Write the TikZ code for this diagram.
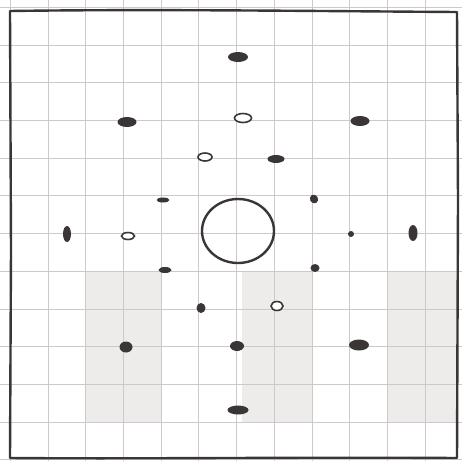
\documentclass[tikz,border=0pt]{standalone}
\usetikzlibrary{shapes.geometric}
\definecolor{ink}{HTML}{3A3636}
\definecolor{gridc}{HTML}{CFC8C8}
\definecolor{shadec}{HTML}{EEEBEB}
\tikzset{
  dot/.style={ellipse, fill=ink, inner sep=0pt, minimum width=#1},
  ring/.style={ellipse, draw=ink, line width=1.6pt, fill=white, inner sep=0pt},
}
\begin{document}
\begin{tikzpicture}[x=1pt,y=-1pt]
\useasboundingbox (0,0) rectangle (462,461);
\fill[white] (0,0) rectangle (462,461);
% shaded strips
\fill[shadec] (86,271) rectangle (161,422);
\fill[shadec] (242,271) rectangle (312,422);
\fill[shadec] (388,271) rectangle (457,422);
% grid
\foreach \k in {-1,...,11} {
  \draw[gridc, line width=0.7pt] ({48+37.7*\k},0) -- ({48+37.7*\k},461);
  \draw[gridc, line width=0.7pt] (0,{45+37.7*\k}) -- (462,{45+37.7*\k});
}
% border
\draw[ink, line width=2.4pt, line join=round]
  (10,11) .. controls (150,9) and (300,11) .. (457,12)
  -- (458,200) -- (457,458)
  .. controls (300,457) and (150,459) .. (10,458)
  -- (11,250) -- cycle;
% big circle
\node[ellipse, draw=ink, line width=2.4pt, minimum width=72pt, minimum height=64pt, inner sep=0pt] (c) at (238,231) {};
% dots
\node[dot=20pt, minimum height=10pt] (d1) at (238,57) {};
\node[dot=19pt, minimum height=10pt] (d2) at (127,122) {};
\node[ring, minimum width=17pt, minimum height=9pt] (d3) at (243,118) {};
\node[dot=19pt, minimum height=10pt] (d4) at (360,121) {};
\node[ring, minimum width=14pt, minimum height=8pt] (d5) at (205,157) {};
\node[dot=17pt, minimum height=8pt] (d6) at (276,159) {};
\node[dot=13pt, minimum height=5pt] (d7) at (163,200) {};
\node[dot=8pt, minimum height=9pt, rotate=30] (d8) at (314,199) {};
\node[dot=8pt, minimum height=16pt] (d9) at (67,234) {};
\node[ring, minimum width=13pt, minimum height=7pt] (d10) at (128,236) {};
\node[dot=6pt, minimum height=6pt] (d11) at (351,234) {};
\node[dot=9pt, minimum height=16pt] (d12) at (413,233) {};
\node[dot=13pt, minimum height=6pt] (d13) at (165,270) {};
\node[dot=9pt, minimum height=8pt] (d14) at (315,268) {};
\node[dot=9pt, minimum height=10pt] (d15) at (201,308) {};
\node[ring, minimum width=12pt, minimum height=9pt] (d16) at (277,306) {};
\node[dot=13pt, minimum height=11pt] (d17) at (126,347) {};
\node[dot=14pt, minimum height=10pt] (d18) at (237,346) {};
\node[dot=20pt, minimum height=11pt] (d19) at (359,345) {};
\node[dot=21pt, minimum height=9pt] (d20) at (238,410) {};
\end{tikzpicture}
\end{document}
